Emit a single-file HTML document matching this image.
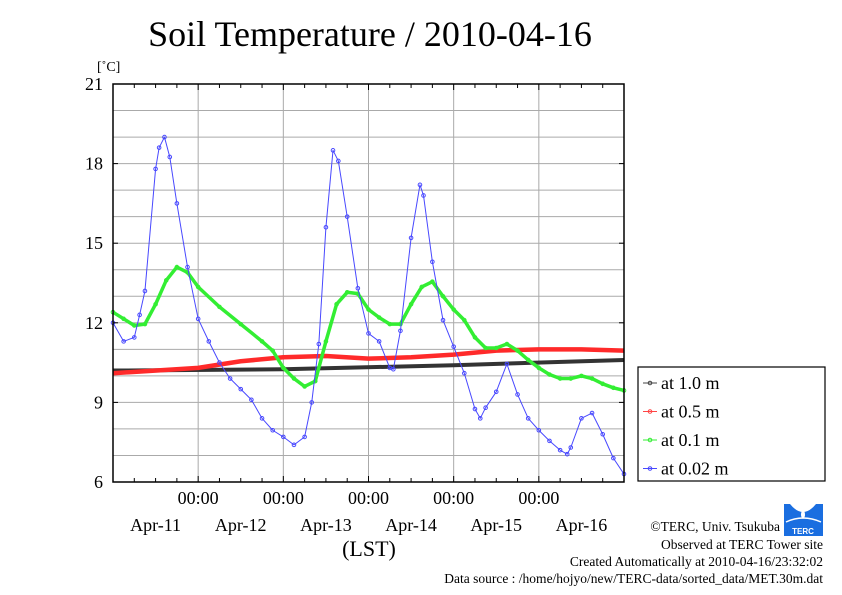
<!DOCTYPE html>
<html><head><meta charset="utf-8"><style>
body{margin:0;background:#fff;}
svg{display:block;font-family:"Liberation Serif",serif;}
</style></head><body>
<svg id="chart" width="842" height="595" viewBox="0 0 842 595">
<text x="370" y="46" font-size="36" text-anchor="middle">Soil Temperature / 2010-04-16</text>
<text x="97" y="71" font-size="14">[˚C]</text>
<g id="grid"></g>
<g id="series"></g>
<rect x="113" y="84" width="511" height="398" fill="none" stroke="#000" stroke-width="1.5"/>
<g id="axes"></g>
<text x="369" y="556" font-size="22" text-anchor="middle">(LST)</text>
<g>
<rect x="638" y="367" width="187" height="114" fill="#fff" stroke="#000" stroke-width="1.2"/>
<g id="legend"></g>
</g>
<g>
<rect x="784" y="504" width="39" height="32" fill="#1a6ee0"/>
<path d="M790 504 Q803 520 816 504 Z" fill="#fff"/>
<path d="M803 508 Q799 516 803 519 Q807 516 803 508Z" fill="#fff"/>
<path d="M786 522 Q803 514 821 522" stroke="#fff" fill="none" stroke-width="1.5"/>
<text x="803" y="534" font-size="8" fill="#fff" text-anchor="middle" font-family="Liberation Sans, sans-serif" font-weight="bold">TERC</text>
</g>
<g font-size="13.5" text-anchor="end">
<text x="780" y="531">©TERC, Univ. Tsukuba</text>
<text x="823" y="549">Observed at TERC Tower site</text>
<text x="823" y="566">Created Automatically at 2010-04-16/23:32:02</text>
<text x="823" y="583">Data source : /home/hojyo/new/TERC-data/sorted_data/MET.30m.dat</text>
</g>
</svg>
<script>
const yTicks=[6,9,12,15,18,21];
const dayLabels=["Apr-11","Apr-12","Apr-13","Apr-14","Apr-15","Apr-16"];
const blueT=[0,3,6,7.5,9,12,13,14.5,16,18,21,24,27,30,33,36,39,42,45,48,51,54,56,58,60,62,63.5,66,69,72,75,78,79,81,84,86.5,87.5,90,93,96,99,102,103.5,105,108,111,114,117,120,123,126,128,129,132,135,138,141,144];
const blueV=[12.0,11.3,11.45,12.3,13.2,17.8,18.6,19.0,18.25,16.5,14.1,12.15,11.3,10.5,9.9,9.5,9.1,8.4,7.95,7.7,7.4,7.7,9.0,11.2,15.6,18.5,18.1,16.0,13.3,11.6,11.3,10.3,10.25,11.7,15.2,17.2,16.8,14.3,12.1,11.1,10.1,8.75,8.4,8.8,9.4,10.45,9.3,8.4,7.95,7.55,7.2,7.05,7.3,8.4,8.6,7.8,6.9,6.3];
const greenT=[0,3,6,9,12,15,18,21,24,30,36,42,45,48,51,54,57,60,63,66,69,72,75,78,81,84,87,90,93,96,99,102,105,108,111,114,117,120,123,126,129,132,135,138,141,144];
const greenV=[12.4,12.15,11.9,11.95,12.7,13.6,14.1,13.9,13.35,12.6,11.95,11.3,10.95,10.3,9.9,9.6,9.8,11.3,12.7,13.15,13.1,12.5,12.2,11.95,11.95,12.7,13.35,13.55,13.0,12.5,12.1,11.45,11.05,11.05,11.2,10.95,10.6,10.3,10.05,9.9,9.9,10.0,9.9,9.7,9.55,9.45];
const redT=[0,24,36,48,60,72,84,96,108,120,132,144];
const redV=[10.1,10.3,10.55,10.7,10.75,10.65,10.7,10.8,10.95,11.0,11.0,10.95];
const blackT=[0,48,96,144];
const blackV=[10.2,10.25,10.4,10.6];
const NS="http://www.w3.org/2000/svg";
const X0=113,X1=624,Y0=482,Y1=84;
const xs=t=>X0+t/144*(X1-X0);
const ys=v=>Y0-(v-6)/15*(Y0-Y1);
function mk(tag,attrs,parent){const e=document.createElementNS(NS,tag);for(const k in attrs)e.setAttribute(k,attrs[k]);parent.appendChild(e);return e;}
const grid=document.getElementById('grid'),axes=document.getElementById('axes'),ser=document.getElementById('series'),leg=document.getElementById('legend');
for(let v=7;v<21;v++){const l=mk('line',{x1:X0,x2:X1,y1:ys(v),y2:ys(v),stroke:'#aaa','stroke-width':1},grid);

}
for(let d=1;d<6;d++){const l=mk('line',{x1:xs(d*24),x2:xs(d*24),y1:Y1,y2:Y0,stroke:'#aaa','stroke-width':1},grid);

}
for(let h=6;h<144;h+=6){const big=h%24===0;for(const [a,b] of [[Y0,Y0-(big?6:4)],[Y1,Y1+(big?6:4)]]){const l=mk('line',{x1:xs(h),x2:xs(h),y1:a,y2:b,stroke:'#000','stroke-width':1},axes);

}}
yTicks.forEach(v=>{const t=mk('text',{x:103,y:ys(v)+6,'font-size':18,'text-anchor':'end'},axes);t.textContent=v;


for(const [a,b] of [[X0,X0+5],[X1,X1-5]]){const l=mk('line',{x1:a,x2:b,y1:ys(v),y2:ys(v),stroke:'#000'},axes);

}});
dayLabels.forEach((d,i)=>{if(i>0){const t=mk('text',{x:xs(i*24),y:504,'font-size':18,'text-anchor':'middle'},axes);t.textContent='00:00';

}
const t2=mk('text',{x:xs(i*24+12),y:531,'font-size':18,'text-anchor':'middle'},axes);t2.textContent=d;

});
function series(T,V,color,name,w,marker){const g=mk('g',{},ser);


mk('polyline',{points:T.map((t,i)=>xs(t)+','+ys(V[i])).join(' '),fill:'none',stroke:color,'stroke-width':w,'stroke-linejoin':'round'},g);
if(marker)T.forEach((t,i)=>{const c=mk('circle',{cx:xs(t),cy:ys(V[i]),r:1.8,fill:'none',stroke:color,'stroke-width':1},g);

});}
series(blackT,blackV,'#333','1m',4,false);
series(redT,redV,'#ff2a2a','0-5m',4.5,false);
series(greenT,greenV,'#33ee33','0-1m',3.5,true);
series(blueT,blueV,'#4848ff','0-02m',1,true);
[['at 1.0 m','#444'],['at 0.5 m','#ff4444'],['at 0.1 m','#33ee33'],['at 0.02 m','#4848ff']].forEach((e,i)=>{const y=383+i*28.5;const g=mk('g',{},leg);


mk('line',{x1:643,x2:657,y1:y,y2:y,stroke:e[1]},g);mk('circle',{cx:650,cy:y,r:1.8,fill:'none',stroke:e[1]},g);
const t=mk('text',{x:661,y:y+6,'font-size':18},g);t.textContent=e[0];});
</script>
</body></html>
